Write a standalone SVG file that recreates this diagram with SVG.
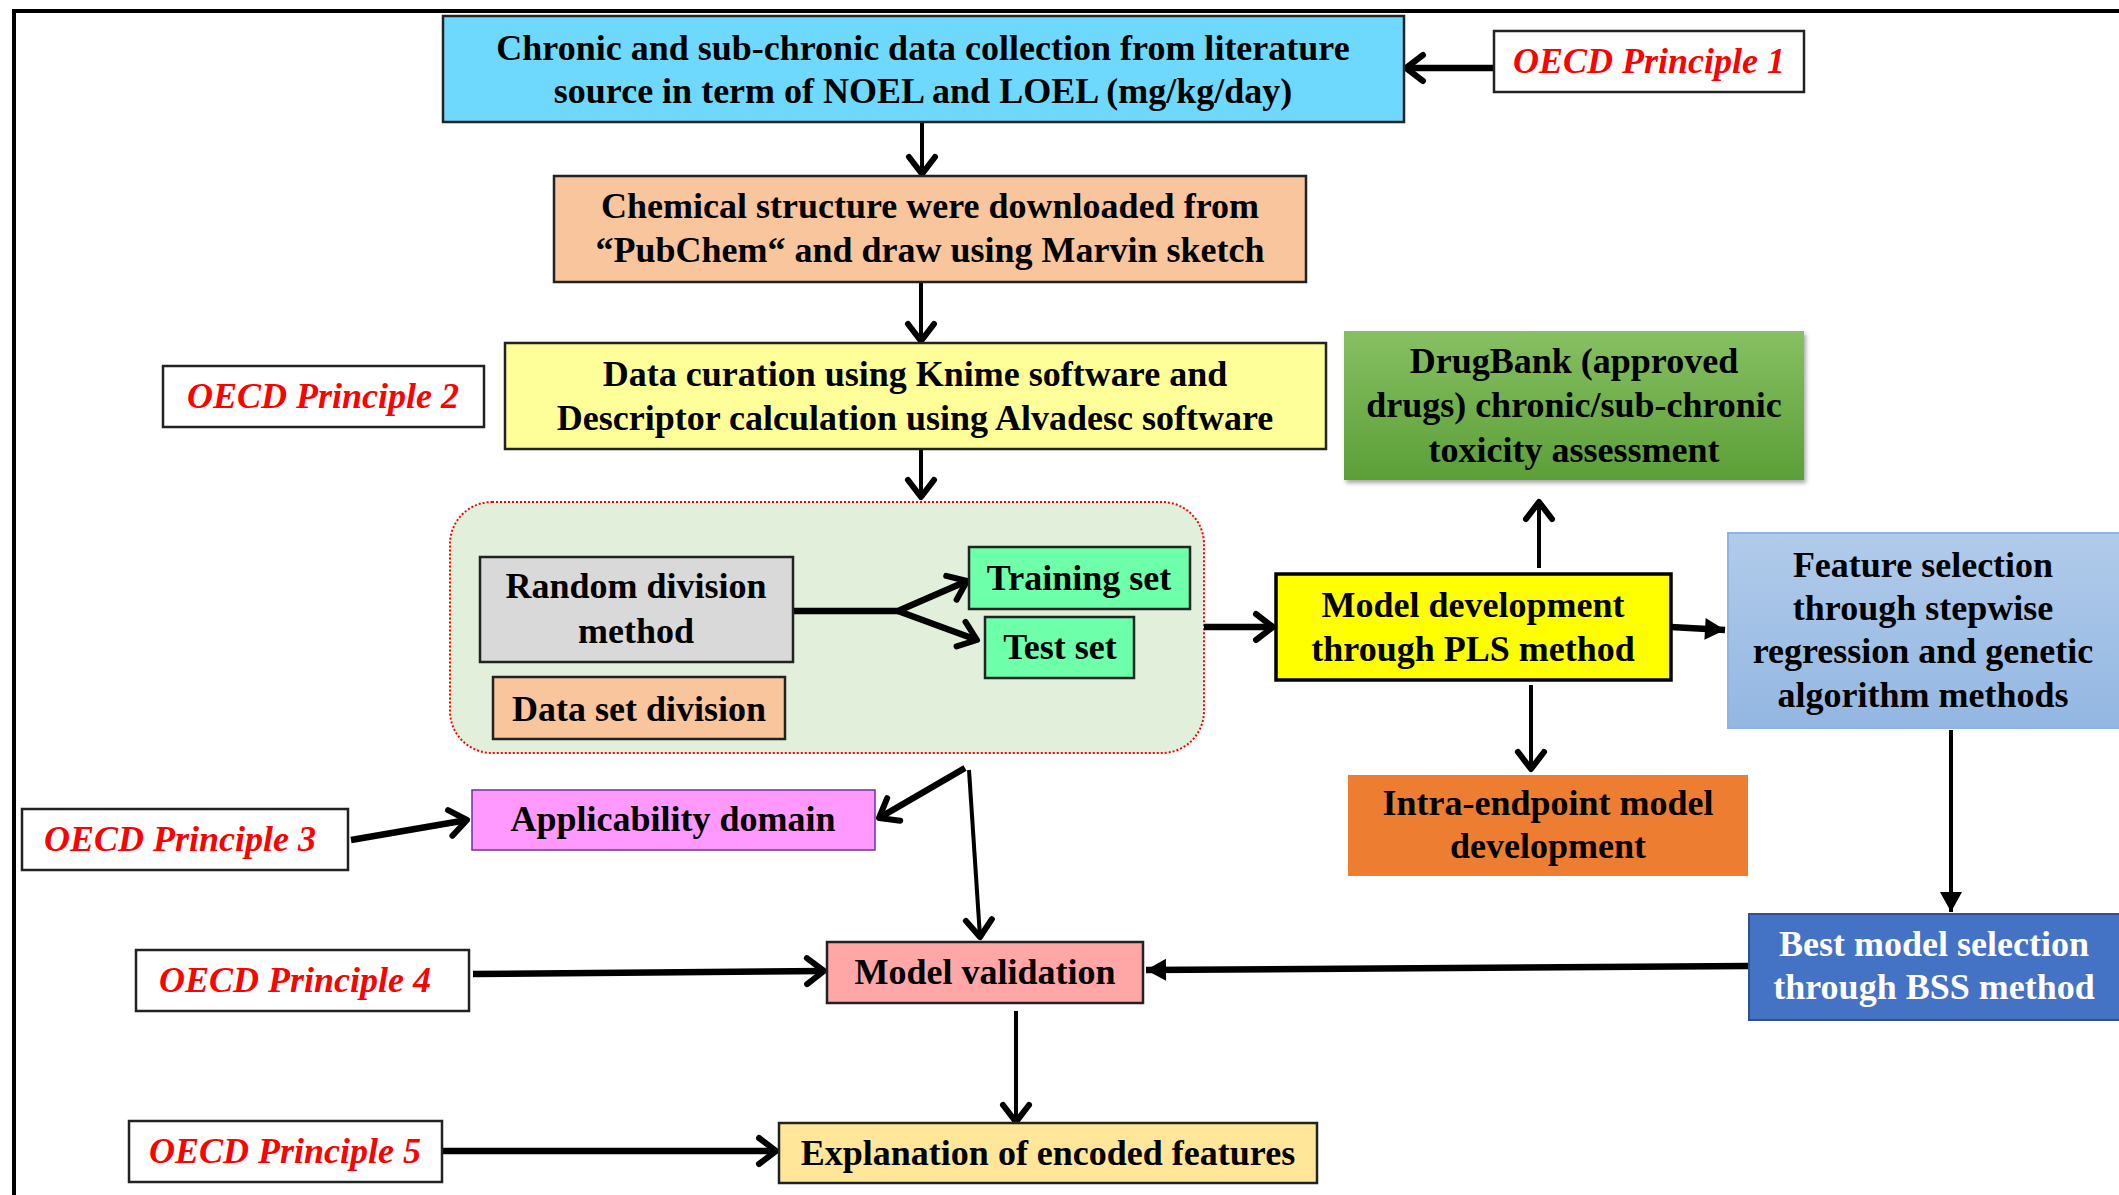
<svg xmlns="http://www.w3.org/2000/svg" width="2119" height="1195" viewBox="0 0 2119 1195">
<defs>
<style>
.t{font-family:"Liberation Serif","Times New Roman",serif;font-weight:bold;font-size:36px;fill:#000;text-anchor:middle}
.p{font-family:"Liberation Serif","Times New Roman",serif;font-weight:bold;font-style:italic;font-size:36px;fill:#ff0000;text-anchor:middle}
.w{fill:#fff}
.bx{stroke:#222;stroke-width:2.5}
.pr{fill:#fff;stroke:#222;stroke-width:2.5}
.c{fill:none;stroke:#000;stroke-linecap:butt}
.th{stroke-width:4}
.tk{stroke-width:6.5}
</style>
<marker id="chev" markerUnits="userSpaceOnUse" viewBox="-24 -18 28 36" markerWidth="28" markerHeight="36" refX="0" refY="0" orient="auto" style="overflow:visible">
<path d="M-17,-13 L0,0 L-17,13" fill="none" stroke="#000" stroke-width="6" stroke-linecap="round" stroke-linejoin="round"/>
</marker>
<marker id="tri" markerUnits="userSpaceOnUse" viewBox="-24 -18 28 36" markerWidth="28" markerHeight="36" refX="0" refY="0" orient="auto" style="overflow:visible">
<path d="M-20,-11 L0,0 L-20,11 z" fill="#000"/>
</marker>
<linearGradient id="gGreen" x1="0" y1="0" x2="0" y2="1">
<stop offset="0" stop-color="#87c062"/>
<stop offset="1" stop-color="#5c9f38"/>
</linearGradient>
<linearGradient id="gBlue" x1="0" y1="0" x2="0" y2="1">
<stop offset="0" stop-color="#b1cbea"/>
<stop offset="1" stop-color="#93b7e2"/>
</linearGradient>
<filter id="sh" x="-5%" y="-5%" width="112%" height="115%">
<feDropShadow dx="2" dy="3" stdDeviation="2" flood-color="#000" flood-opacity="0.35"/>
</filter>
</defs>

<path d="M14,1195 L14,11 L2119,11" fill="none" stroke="#000" stroke-width="4"/>

<g id="group-division">
<rect x="450" y="502" width="754" height="251" rx="42" ry="42" fill="#e2efda" stroke="#ff0000" stroke-width="2" stroke-dasharray="2 2"/>
</g>

<g id="connectors">
<path class="c tk" d="M1494,68 L1406,68" marker-end="url(#chev)"/>
<path class="c th" d="M922,122 L922,174" marker-end="url(#chev)"/>
<path class="c th" d="M921,282 L921,341" marker-end="url(#chev)"/>
<path class="c th" d="M921,449 L921,497" marker-end="url(#chev)"/>
<path class="c tk" d="M793,611 L898,611 L967,581" marker-end="url(#chev)"/>
<path class="c tk" d="M898,611 L977,640" marker-end="url(#chev)"/>
<path class="c tk" d="M1204,627 L1273,627" marker-end="url(#chev)"/>
<path class="c th" d="M1539,568 L1539,502" marker-end="url(#chev)"/>
<path class="c th" d="M1531,685 L1531,769" marker-end="url(#chev)"/>
<path class="c tk" d="M1671,627 L1725,630" marker-end="url(#tri)"/>
<path class="c th" d="M1951,730 L1951,912" marker-end="url(#tri)"/>
<path class="c tk" d="M1749,966 L1146,970" marker-end="url(#tri)"/>
<path class="c tk" d="M965,768 L879,818" marker-end="url(#chev)"/>
<path class="c th" d="M969,770 L980,937" marker-end="url(#chev)"/>
<path class="c tk" d="M351,840 L467,820" marker-end="url(#chev)"/>
<path class="c tk" d="M473,974 L824,971" marker-end="url(#chev)"/>
<path class="c th" d="M1016,1011 L1016,1122" marker-end="url(#chev)"/>
<path class="c tk" d="M442,1151 L776,1151" marker-end="url(#chev)"/>
</g>

<g id="n-collection">
<rect class="bx" x="443" y="16" width="961" height="106" fill="#6fd9fd"/>
<text class="t" x="923" y="60">Chronic and sub-chronic data collection from literature</text>
<text class="t" x="923" y="103">source in term of NOEL and LOEL (mg/kg/day)</text>
</g>

<g id="n-p1">
<rect class="pr" x="1494" y="31" width="310" height="61"/>
<text class="p" x="1649" y="73">OECD Principle 1</text>
</g>

<g id="n-structure">
<rect class="bx" x="554" y="176" width="752" height="106" fill="#f8c59c"/>
<text class="t" x="930" y="218">Chemical structure were downloaded from</text>
<text class="t" x="930" y="262">“PubChem“ and draw using Marvin sketch</text>
</g>

<g id="n-curation">
<rect class="bx" x="505" y="343" width="821" height="106" fill="#ffff99"/>
<text class="t" x="915" y="386">Data curation using Knime software and</text>
<text class="t" x="915" y="430">Descriptor calculation using Alvadesc software</text>
</g>

<g id="n-p2">
<rect class="pr" x="163" y="366" width="321" height="61"/>
<text class="p" x="323" y="408">OECD Principle 2</text>
</g>

<g id="n-drugbank">
<rect x="1344" y="331" width="460" height="149" fill="url(#gGreen)" filter="url(#sh)"/>
<text class="t" x="1574" y="373">DrugBank (approved</text>
<text class="t" x="1574" y="417">drugs) chronic/sub-chronic</text>
<text class="t" x="1574" y="462">toxicity assessment</text>
</g>

<g id="n-random">
<rect class="bx" x="480" y="557" width="313" height="105" fill="#d9d9d9"/>
<text class="t" x="636" y="598">Random division</text>
<text class="t" x="636" y="643">method</text>
</g>

<g id="n-datasetdivision">
<rect class="bx" x="493" y="677" width="292" height="62" fill="#f8c59c"/>
<text class="t" x="639" y="721">Data set division</text>
</g>

<g id="n-training">
<rect class="bx" x="969" y="547" width="221" height="62" fill="#6dffaa"/>
<text class="t" x="1079" y="590">Training set</text>
</g>

<g id="n-test">
<rect class="bx" x="985" y="617" width="149" height="61" fill="#6dffaa"/>
<text class="t" x="1060" y="659">Test set</text>
</g>

<g id="n-modeldev">
<rect x="1276" y="574" width="395" height="106" fill="#ffff00" stroke="#000" stroke-width="3.5"/>
<text class="t" x="1473" y="617">Model development</text>
<text class="t" x="1473" y="661">through PLS method</text>
</g>

<g id="n-intra">
<rect x="1348" y="775" width="400" height="101" fill="#ed7d31"/>
<text class="t" x="1548" y="815">Intra-endpoint model</text>
<text class="t" x="1548" y="858">development</text>
</g>

<g id="n-feature">
<rect x="1728" y="533" width="400" height="195" fill="url(#gBlue)" stroke="#8db4e2" stroke-width="2"/>
<text class="t" x="1923" y="577">Feature selection</text>
<text class="t" x="1923" y="620">through stepwise</text>
<text class="t" x="1923" y="663">regression and genetic</text>
<text class="t" x="1923" y="707">algorithm methods</text>
</g>

<g id="n-best">
<rect x="1749" y="914" width="380" height="106" fill="#4472c4" stroke="#2f528f" stroke-width="2"/>
<text class="t w" x="1934" y="956">Best model selection</text>
<text class="t w" x="1934" y="999">through BSS method</text>
</g>

<g id="n-applicability">
<rect x="472" y="790" width="403" height="60" fill="#ff99ff" stroke="#7030a0" stroke-width="1.5"/>
<text class="t" x="673" y="831">Applicability domain</text>
</g>

<g id="n-p3">
<rect class="pr" x="22" y="809" width="326" height="61"/>
<text class="p" x="180" y="851">OECD Principle 3</text>
</g>

<g id="n-validation">
<rect class="bx" x="827" y="942" width="316" height="61" fill="#ffa6a6"/>
<text class="t" x="985" y="984">Model validation</text>
</g>

<g id="n-p4">
<rect class="pr" x="136" y="950" width="333" height="61"/>
<text class="p" x="295" y="992">OECD Principle 4</text>
</g>

<g id="n-explanation">
<rect class="bx" x="779" y="1123" width="538" height="60" fill="#ffe699"/>
<text class="t" x="1048" y="1165">Explanation of encoded features</text>
</g>

<g id="n-p5">
<rect class="pr" x="129" y="1121" width="313" height="61"/>
<text class="p" x="285" y="1163">OECD Principle 5</text>
</g>
</svg>
